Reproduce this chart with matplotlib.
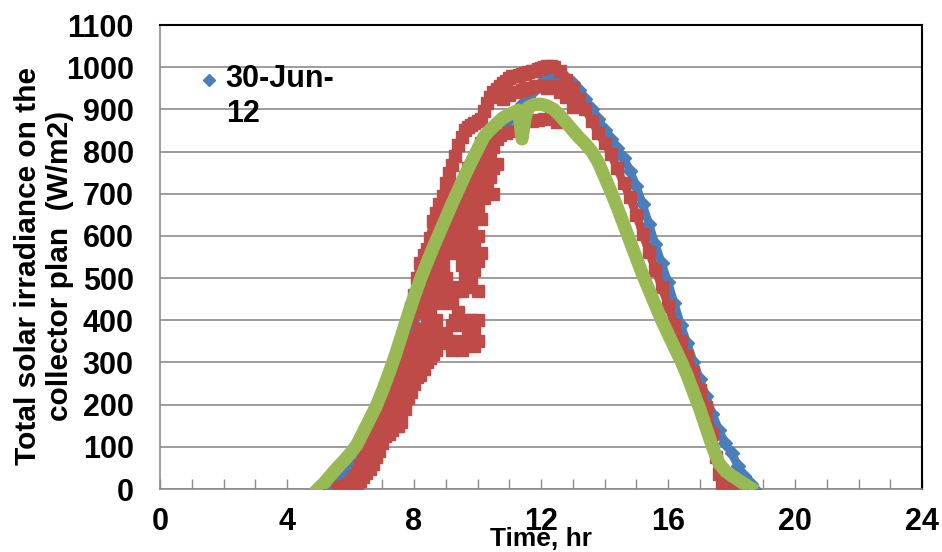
import matplotlib.pyplot as plt
from matplotlib.lines import Line2D

plt.rcParams['font.family'] = ['Liberation Sans', 'DejaVu Sans']
plt.rcParams['font.weight'] = 'bold'

# series 1 (30-Jun-12), blue diamonds
blue_t = [5.2, 5.4, 5.6, 5.8, 6.0, 6.2, 6.4, 6.6, 6.8, 7.0, 7.2, 7.4, 7.6, 7.8, 8.0, 8.2, 8.4,
          8.6, 8.8, 9.0, 9.2, 9.4, 9.6, 9.8, 10.0, 10.2, 10.4, 10.6, 10.8, 11.0, 11.2, 11.4,
          11.6, 11.8, 12.0, 12.2, 12.4, 12.6, 12.8, 13.0, 13.2, 13.4, 13.6, 13.8, 14.0, 14.2,
          14.4, 14.6, 14.8, 15.0, 15.2, 15.4, 15.6, 15.8, 16.0, 16.2, 16.4, 16.6, 16.8, 17.0,
          17.2, 17.4, 17.6, 17.8, 18.0, 18.2, 18.4, 18.6, 18.7]
blue_v = [0, 8, 25, 45, 68, 92, 118, 148, 180, 212, 245, 280, 318, 355, 392, 430, 468,
          505, 542, 578, 612, 646, 680, 712, 745, 775, 805, 830, 855, 878, 895, 912,
          930, 948, 962, 973, 980, 982, 975, 962, 945, 925, 902, 878, 852, 830,
          808, 785, 755, 718, 675, 628, 580, 535, 490, 440, 390, 345, 302, 260,
          220, 178, 140, 108, 85, 55, 30, 12, 0]

# series 2, red squares: main track
red_t = [5.6, 5.7, 5.8, 5.9, 6.0, 6.1, 6.2, 6.3, 6.4, 6.5, 6.6, 6.7, 6.8, 6.9, 7.0, 7.1,
         7.2, 7.3, 7.4, 7.5, 7.6, 7.7, 7.8, 7.9, 8.0, 8.1, 8.2, 8.3, 8.4, 8.5, 8.6, 8.7,
         8.8, 8.9, 9.0, 9.1, 9.2, 9.3, 9.4, 9.5, 9.6, 9.7, 9.8, 9.9, 10.0, 10.1, 10.2,
         10.3, 10.4, 10.5, 10.6, 10.7, 10.8, 10.9, 11.0, 11.1, 11.2, 11.3, 11.4, 11.5,
         11.6, 11.7, 11.8, 11.9, 12.0, 12.1, 12.2, 12.3, 12.4, 12.6, 12.8, 13.0, 13.2,
         13.4, 13.6, 13.8, 14.0, 14.2, 14.4, 14.6, 14.8, 15.0, 15.2, 15.4, 15.6, 15.8,
         16.0, 16.2, 16.4, 16.6, 16.8, 17.0, 17.2, 17.4, 17.5, 17.6, 17.7, 17.9, 18.1]
red_v = [3, 5, 8, 12, 18, 28, 40, 55, 70, 88, 105, 125, 145, 168, 190, 215,
         240, 265, 290, 318, 345, 372, 400, 430, 460, 500, 535, 555, 570, 595, 635, 655,
         675, 695, 725, 748, 768, 790, 815, 835, 850, 858, 862, 868, 872, 878, 895,
         915, 930, 940, 948, 955, 962, 968, 975, 978, 980, 982, 984, 986,
         988, 990, 992, 995, 998, 1000, 1002, 1003, 1000, 990, 970, 950, 925,
         900, 872, 845, 820, 795, 760, 725, 692, 650, 605, 562, 520, 478,
         435, 390, 350, 315, 278, 235, 195, 130, 75, 35, 12, 3, 0]

# series 2, red squares: scattered (cloudy) readings
red_cloud_t = [5.9, 6.0, 6.1, 6.2, 6.3, 6.4, 6.5, 6.6, 6.6, 6.7, 6.7, 6.8, 6.8, 6.9, 6.9,
               7.0, 7.0, 7.1, 7.1, 7.2, 7.2, 7.2, 7.3, 7.3, 7.3, 7.4, 7.4, 7.4,
               7.5, 7.5, 7.5, 7.6, 7.6, 7.6, 7.6, 7.7, 7.7, 7.7, 7.7, 7.8, 7.8, 7.8,
               7.9, 7.9, 7.9, 7.9, 8.0, 8.0, 8.0, 8.0, 8.1, 8.1, 8.1, 8.1,
               8.2, 8.2, 8.2, 8.2, 8.2, 8.3, 8.3, 8.3, 8.3, 8.3,
               8.4, 8.4, 8.4, 8.4, 8.4, 8.5, 8.5, 8.5, 8.5, 8.5,
               8.6, 8.6, 8.6, 8.6, 8.6, 8.7, 8.7, 8.7, 8.7, 8.7,
               8.8, 8.8, 8.8, 8.8, 8.8, 8.9, 8.9, 8.9, 8.9, 8.9,
               9.0, 9.0, 9.0, 9.0, 9.0, 9.1, 9.1, 9.1, 9.1, 9.1,
               9.2, 9.2, 9.2, 9.2, 9.2, 9.2, 9.3, 9.3, 9.3, 9.3, 9.3, 9.3,
               9.4, 9.4, 9.4, 9.4, 9.4, 9.4, 9.4, 9.5, 9.5, 9.5, 9.5, 9.5, 9.5, 9.5,
               9.6, 9.6, 9.6, 9.6, 9.6, 9.6, 9.6, 9.7, 9.7, 9.7, 9.7, 9.7, 9.7, 9.7,
               9.8, 9.8, 9.8, 9.8, 9.8, 9.8, 9.8, 9.9, 9.9, 9.9, 9.9, 9.9, 9.9, 9.9,
               10.0, 10.0, 10.0, 10.0, 10.0, 10.0, 10.0, 10.0,
               10.1, 10.1, 10.1, 10.1, 10.1, 10.2, 10.2, 10.2, 10.3, 10.3, 10.3,
               10.4, 10.4, 10.4, 10.5, 10.5, 10.5, 10.6, 10.6, 10.7,
               10.8, 10.9, 11.0, 11.1, 11.2, 11.3, 11.4, 11.5, 11.6, 11.7, 11.8, 11.9,
               12.0, 12.1, 12.2, 12.3, 12.4, 12.5, 12.6, 12.8, 13.0]
red_cloud_v = [2, 3, 5, 12, 20, 28, 38, 48, 75, 60, 95, 75, 110, 90, 130,
               110, 140, 125, 160, 130, 170, 205, 140, 185, 225, 150, 195, 240,
               150, 200, 255, 160, 210, 270, 310, 190, 240, 290, 330, 215, 260, 310,
               230, 280, 320, 400, 250, 300, 340, 420, 265, 310, 360, 440,
               270, 320, 370, 420, 470, 285, 335, 380, 460, 500,
               300, 350, 400, 450, 510, 310, 360, 420, 480, 530,
               320, 380, 440, 500, 560, 330, 400, 470, 520, 580,
               345, 450, 500, 560, 600, 360, 470, 530, 580, 620,
               370, 440, 500, 560, 640, 350, 460, 580, 620, 660,
               330, 390, 450, 600, 650, 690, 340, 400, 470, 580, 640, 700,
               350, 420, 480, 560, 620, 680, 720, 330, 390, 470, 530, 590, 650, 710,
               340, 400, 500, 560, 620, 680, 740, 360, 480, 540, 600, 660, 720, 760,
               345, 400, 500, 560, 620, 680, 740, 340, 380, 520, 580, 640, 700, 770,
               350, 400, 470, 540, 600, 660, 720, 790,
               560, 640, 700, 760, 820, 690, 740, 800, 710, 760, 820,
               740, 790, 840, 700, 760, 810, 770, 830, 840,
               925, 845, 935, 848, 940, 850, 945, 948, 950, 872, 955, 875,
               955, 878, 950, 880, 955, 870, 940, 930, 905]

# series 3, green
green_t = [5.0, 5.2, 5.4, 5.6, 5.8, 6.0, 6.2, 6.4, 6.6, 6.8, 7.0, 7.2, 7.4, 7.6, 7.8, 8.0,
           8.2, 8.4, 8.6, 8.8, 9.0, 9.2, 9.4, 9.6, 9.8, 10.0, 10.2, 10.4, 10.6, 10.8, 11.0,
           11.2, 11.3, 11.4, 11.5, 11.6, 11.8, 12.0, 12.2, 12.4, 12.6, 12.8, 13.0, 13.2,
           13.4, 13.6, 13.8, 14.0, 14.2, 14.4, 14.6, 14.8, 15.0, 15.2, 15.4, 15.6, 15.8,
           16.0, 16.2, 16.4, 16.6, 16.8, 17.0, 17.2, 17.4, 17.6, 17.8, 18.0, 18.2, 18.4, 18.6]
green_v = [2, 17, 35, 52, 68, 85, 105, 135, 165, 195, 232, 272, 315, 362, 410, 455,
           497, 535, 572, 607, 642, 677, 710, 743, 775, 805, 835, 852, 866, 880, 888,
           895, 898, 830, 880, 905, 912, 912, 908, 900, 885, 868, 850, 833,
           818, 800, 775, 740, 705, 668, 628, 588, 548, 508, 472, 436, 400,
           368, 336, 305, 270, 230, 190, 145, 100, 62, 43, 32, 22, 12, 3]

x_ticks = [0, 4, 8, 12, 16, 20, 24]
y_ticks = list(range(0, 1101, 100))

c_blue = '#4A7EBB'
c_red = '#BE4B48'
c_green = '#98B954'
c_grid = '#8C8C8C'

fig = plt.figure(figsize=(9.42, 5.52), dpi=100)
ax = fig.add_axes([0.1699, 0.1141, 0.8089, 0.8406])

ax.plot(blue_t, blue_v, color=c_blue, lw=6, marker='D', ms=7, zorder=3)
ax.plot(red_t, red_v, color=c_red, lw=6, marker='s', ms=8, zorder=4)
ax.plot(red_cloud_t, red_cloud_v, ls='none', color=c_red, marker='s', ms=9, zorder=4)
ax.plot(green_t, green_v, color=c_green, lw=9.5, marker='^', ms=6, zorder=5)

ax.set_xlim(0, 24)
ax.set_ylim(0, 1100)
ax.set_xticks(x_ticks)
ax.set_xticks(range(0, 25), minor=True)
ax.set_yticks(y_ticks)
ax.tick_params(axis='x', which='both', direction='in', length=7, width=1,
               color=c_grid, labelsize=22, pad=13)
ax.tick_params(axis='y', length=0, labelsize=22, pad=19)
ax.yaxis.grid(True, color=c_grid, lw=1.2)
ax.set_axisbelow(True)

for s in ['left', 'bottom']:
    ax.spines[s].set_color(c_grid)
    ax.spines[s].set_linewidth(1.2)
for s in ['top', 'right']:
    ax.spines[s].set_color('black')
    ax.spines[s].set_linewidth(1.5)

ax.set_xlabel('Time, hr', fontsize=19, fontweight='bold', va='top')
ax.xaxis.set_label_coords(0.5, -0.082)
ax.set_ylabel('Total solar irradiance on the\ncollector plan  (W/m2)',
              fontsize=21.5, fontweight='bold')
ax.yaxis.set_label_coords(-0.113, 0.48)

handle = Line2D([], [], ls='none', marker='D', color=c_blue, ms=6)
ax.legend(handles=[handle], labels=['30-Jun-\n12'], loc='upper left',
          bbox_to_anchor=(0.054, 0.94), frameon=False, borderpad=0,
          borderaxespad=0, handlelength=0.5, handletextpad=0.3, handleheight=4.4,
          prop={'size': 22, 'weight': 'bold'})

fig.savefig('out.png', dpi=100)
